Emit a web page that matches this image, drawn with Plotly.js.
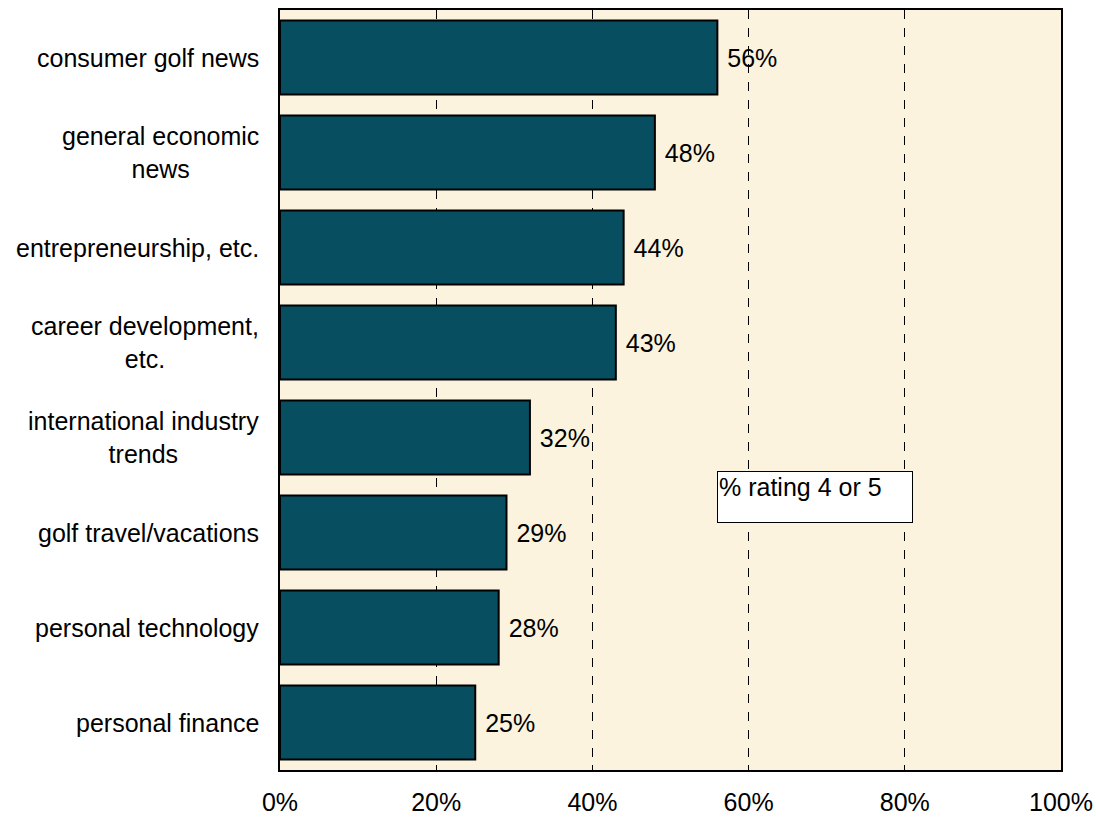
<!DOCTYPE html>
<html>
<head>
<meta charset="utf-8">
<script src="https://cdn.plot.ly/plotly-3.0.1.min.js"></script>
<style>html,body{margin:0;padding:0;background:#fff;}#chart{width:1096px;height:818px;}</style>
</head>
<body>
<div id="chart"></div>
<script>
const categories = [
  "consumer golf news",
  "general economic<br>news",
  "entrepreneurship, etc.",
  "career development,<br>etc.",
  "international industry<br>trends",
  "golf travel/vacations",
  "personal technology",
  "personal finance"
];
const values = [56, 48, 44, 43, 32, 29, 28, 25];
const valueLabels = values.map(v => "\u00a0" + v + "%");
const xTickVals = [0, 20, 40, 60, 80, 100];
const xTickText = ["0%", "20%", "40%", "60%", "80%", "100%"];
const noteText = "% rating 4 or 5";

const font = {family: "Liberation Sans, Arial, sans-serif", size: 25, color: "#000"};

const trace = {
  type: "bar",
  orientation: "h",
  y: categories,
  x: values,
  text: valueLabels,
  textposition: "outside",
  textfont: font,
  cliponaxis: false,
  width: 0.78,
  marker: {color: "#074f60", line: {color: "#000", width: 2}},
  hoverinfo: "none"
};

// category labels drawn as annotations so multi-line labels are centre-aligned
const catAnnotations = categories.map(c => ({
  xref: "paper",
  yref: "y",
  x: 0,
  xshift: -19,
  y: c,
  xanchor: "right",
  yanchor: "middle",
  align: "center",
  text: c,
  showarrow: false,
  font: font
}));

const layout = {
  width: 1096,
  height: 818,
  margin: {l: 280, r: 35, t: 10, b: 48, pad: 0},
  paper_bgcolor: "#ffffff",
  plot_bgcolor: "#fbf3de",
  font: font,
  showlegend: false,
  xaxis: {
    range: [0, 100],
    tickvals: xTickVals,
    ticktext: xTickText,
    showgrid: true,
    gridcolor: "#000",
    gridwidth: 1,
    griddash: "dash",
    zeroline: false,
    showline: true,
    linecolor: "#000",
    linewidth: 2,
    mirror: "ticks",
    ticks: "inside",
    ticklen: 5,
    tickcolor: "#000",
    tickfont: font,
    ticklabelstandoff: 9,
    fixedrange: true
  },
  yaxis: {
    autorange: "reversed",
    showgrid: false,
    zeroline: false,
    showline: true,
    linecolor: "#000",
    linewidth: 2,
    mirror: true,
    ticks: "",
    showticklabels: false,
    fixedrange: true
  },
  annotations: catAnnotations.concat([{
    xref: "x",
    yref: "paper",
    x: 56,
    y: 0.3934,
    xanchor: "left",
    yanchor: "top",
    text: noteText,
    showarrow: false,
    align: "left",
    valign: "top",
    width: 192,
    height: 48,
    bgcolor: "#ffffff",
    bordercolor: "#000",
    borderwidth: 1,
    borderpad: 1,
    font: font
  }])
};

Plotly.newPlot("chart", [trace], layout, {displayModeBar: false, staticPlot: true});
</script>
</body>
</html>
